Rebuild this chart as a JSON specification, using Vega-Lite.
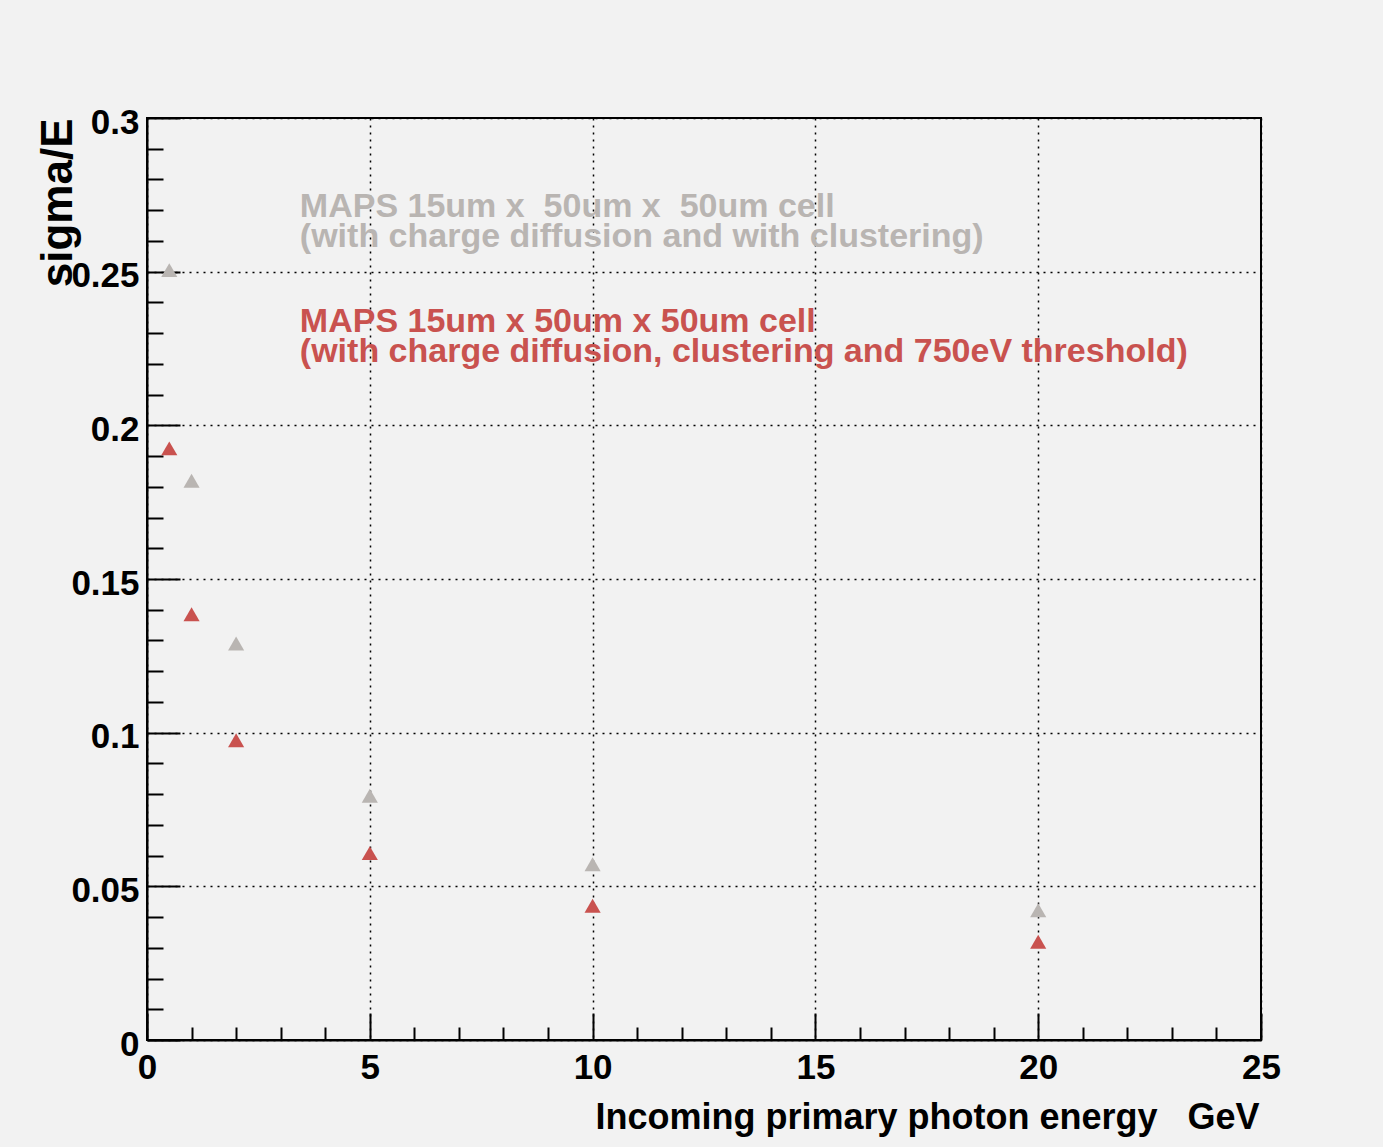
{
  "$schema": "https://vega.github.io/schema/vega-lite/v6.json",
  "width": 1114,
  "height": 922,
  "autosize": {"type": "none"},
  "padding": {"left": 147, "top": 118, "right": 122, "bottom": 107},
  "background": "#f2f2f2",
  "config": {
    "view": {"stroke": "black", "strokeWidth": 2, "fill": "#f2f2f2"},
    "axis": {"labelFont": "Liberation Sans", "labelFontWeight": "bold", "labelColor": "black", "titleFont": "Liberation Sans", "titleFontWeight": "bold", "titleColor": "black", "domainColor": "black", "domainWidth": 2, "tickColor": "black", "tickWidth": 2}
  },
  "datasets": {
    "points": [
      {"energy": 0.5, "sigma": 0.2505, "series": "no threshold"},
      {"energy": 1, "sigma": 0.182, "series": "no threshold"},
      {"energy": 2, "sigma": 0.129, "series": "no threshold"},
      {"energy": 5, "sigma": 0.0795, "series": "no threshold"},
      {"energy": 10, "sigma": 0.0572, "series": "no threshold"},
      {"energy": 20, "sigma": 0.0422, "series": "no threshold"},
      {"energy": 0.5, "sigma": 0.1925, "series": "750eV threshold"},
      {"energy": 1, "sigma": 0.1385, "series": "750eV threshold"},
      {"energy": 2, "sigma": 0.0975, "series": "750eV threshold"},
      {"energy": 5, "sigma": 0.0608, "series": "750eV threshold"},
      {"energy": 10, "sigma": 0.0437, "series": "750eV threshold"},
      {"energy": 20, "sigma": 0.032, "series": "750eV threshold"}
    ],
    "labels": [
      {"energy": 3.43, "sigma": 0.2712, "series": "no threshold", "text": ["MAPS 15um x\u00a0\u00a050um x\u00a0\u00a050um cell", "(with charge diffusion and with clustering)"]},
      {"energy": 3.43, "sigma": 0.2337, "series": "750eV threshold", "text": ["MAPS 15um x 50um x 50um cell", "(with charge diffusion, clustering and 750eV threshold)"]}
    ]
  },
  "layer": [
    {
      "data": {"name": "points"},
      "mark": {"type": "point", "shape": "triangle-up", "filled": true, "size": 260, "opacity": 1},
      "encoding": {
        "x": {"field": "energy", "type": "quantitative", "scale": {"domain": [0, 25], "nice": false},
          "axis": {"orient": "bottom", "values": [0, 1, 2, 3, 4, 5, 6, 7, 8, 9, 10, 11, 12, 13, 14, 15, 16, 17, 18, 19, 20, 21, 22, 23, 24, 25], "tickCount": 100,
            "labelExpr": "datum.value % 5 === 0 ? format(datum.value, 'd') : ''",
            "grid": true, "gridColor": "black", "gridDash": [2, 5], "gridWidth": 1.5,
            "gridOpacity": {"condition": {"test": "datum.value % 5 === 0", "value": 1}, "value": 0},
            "tickSize": {"condition": {"test": "datum.value % 5 === 0", "value": -27}, "value": -13},
            "labelPadding": 37, "labelFontSize": 35, "labelFlush": false, "labelOverlap": false,
            "title": "Incoming primary photon energy\u00a0\u00a0\u00a0GeV", "titleFontSize": 36, "titleAnchor": "end", "titleAlign": "right", "titleBaseline": "alphabetic", "titleX": 1112, "titleY": 88}},
        "y": {"field": "sigma", "type": "quantitative", "scale": {"domain": [0, 0.3], "nice": false},
          "axis": {"orient": "left", "values": [0, 0.01, 0.02, 0.03, 0.04, 0.05, 0.06, 0.07, 0.08, 0.09, 0.1, 0.11, 0.12, 0.13, 0.14, 0.15, 0.16, 0.17, 0.18, 0.19, 0.2, 0.21, 0.22, 0.23, 0.24, 0.25, 0.26, 0.27, 0.28, 0.29, 0.3], "tickCount": 100,
            "labelExpr": "abs(datum.value * 20 - round(datum.value * 20)) < 0.001 ? format(datum.value, '~g') : ''",
            "grid": true, "gridColor": "black", "gridDash": [2, 5], "gridWidth": 1.5,
            "gridOpacity": {"condition": {"test": "abs(datum.value * 20 - round(datum.value * 20)) < 0.001", "value": 1}, "value": 0},
            "tickSize": {"condition": {"test": "abs(datum.value * 20 - round(datum.value * 20)) < 0.001", "value": -33}, "value": -16},
            "labelPadding": 41, "labelFontSize": 35, "labelOffset": 4, "labelOverlap": false,
            "title": "sigma/E", "titleFontSize": 44, "titleAngle": -90, "titleAnchor": "end", "titleAlign": "right", "titleBaseline": "alphabetic", "titleX": -76, "titleY": 0}},
        "color": {"field": "series", "type": "nominal", "scale": {"domain": ["no threshold", "750eV threshold"], "range": ["#b9b5b2", "#c9524f"]}, "legend": null}
      }
    },
    {
      "data": {"name": "labels"},
      "mark": {"type": "text", "align": "left", "baseline": "middle", "font": "Liberation Sans", "fontWeight": "bold", "fontSize": 34, "lineHeight": 30},
      "encoding": {
        "x": {"field": "energy", "type": "quantitative"},
        "y": {"field": "sigma", "type": "quantitative"},
        "text": {"field": "text"},
        "color": {"field": "series", "type": "nominal", "scale": {"domain": ["no threshold", "750eV threshold"], "range": ["#b9b5b2", "#c9524f"]}, "legend": null}
      }
    }
  ]
}
